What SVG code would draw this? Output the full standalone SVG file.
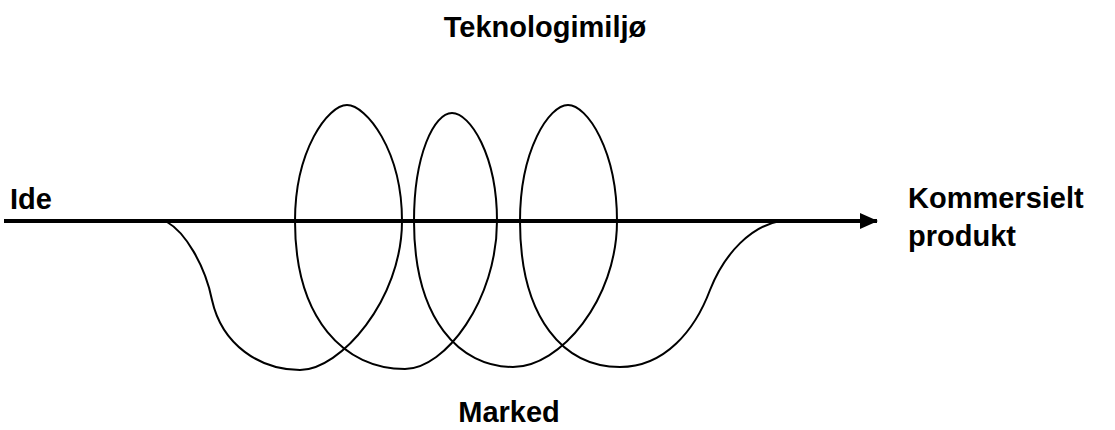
<svg xmlns="http://www.w3.org/2000/svg" width="1115" height="430" viewBox="0 0 1115 430">
<style>
.lbl{font-family:"Liberation Sans",Arial,sans-serif;font-weight:bold;font-size:29px;fill:#000}
.axis{stroke:#000;stroke-width:4;fill:none}
.curve{stroke:#000;stroke-width:2;fill:none}
</style>
<defs>
<marker id="ah" markerUnits="userSpaceOnUse" markerWidth="18" markerHeight="16" refX="17" refY="8" orient="auto">
<path d="M0,0 L18,8 L0,16 Z" fill="#000"/>
</marker>
</defs>
<rect width="1115" height="430" fill="#fff"/>
<g id="connectors">
<path class="axis" d="M4,221 L877,221" marker-end="url(#ah)"/>
<path id="spiral" class="curve" d="M167,222 C185,232 205,265 212,300 C222,345 260,370 300,370 C340,370 402,300 402,221 C402,150 366,105 347,105 C328,105 295,150 295,221 C295,320 345,369 405,369 C445,369 497,300 497,221 C497,155 470,113 452,113 C434,113 414,155 414,221 C414,320 460,367 513,367 C560,367 617,300 617,221 C617,150 587,105 568,105 C549,105 520,150 520,221 C520,320 565,367 620,367 C665,367 695,330 710,290 C725,252 752,226 780,221"/>
</g>
<g id="node-teknologimiljo"><text class="lbl" x="545" y="37" text-anchor="middle">Teknologimiljø</text></g>
<g id="node-ide"><text class="lbl" x="10" y="209">Ide</text></g>
<g id="node-kommersielt"><text class="lbl" x="908" y="208">Kommersielt</text><text class="lbl" x="908" y="246">produkt</text></g>
<g id="node-marked"><text class="lbl" x="509" y="422" text-anchor="middle">Marked</text></g>
</svg>
